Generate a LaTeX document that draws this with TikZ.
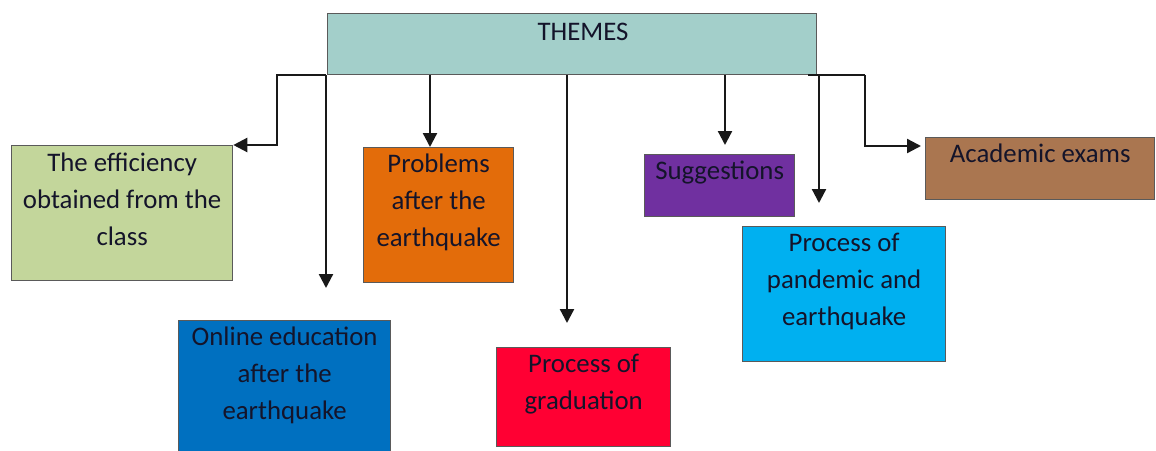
\documentclass[tikz,border=0pt]{standalone}
\usepackage{fontspec}
\setmainfont{Carlito}
\usetikzlibrary{arrows.meta}
\definecolor{themefill}{HTML}{A3CFCA}
\definecolor{efffill}{HTML}{C3D69B}
\definecolor{probfill}{HTML}{E36C0A}
\definecolor{onlinefill}{HTML}{0070C0}
\definecolor{gradfill}{HTML}{FF0033}
\definecolor{sugfill}{HTML}{7030A0}
\definecolor{pandfill}{HTML}{00B0F0}
\definecolor{acadfill}{HTML}{AA7650}
\definecolor{txt}{HTML}{14142A}
\definecolor{edge}{HTML}{5A5A5A}
\tikzset{
  box/.style={draw=edge, line width=1.3pt, rectangle, inner sep=0pt, anchor=north west},
  lbl/.style={anchor=north, inner sep=0pt, align=center, text=txt, font=\fontsize{26.8}{37}\selectfont},
  arr/.style={draw=black!90, line width=2.3pt, -{Triangle[width=14pt,length=14pt]}},
  plain/.style={draw=black!90, line width=2.3pt}
}
\newcommand{\mybox}[6]{%
  \node[box, fill=#6, minimum width=#4pt-#2pt, minimum height=#5pt-#3pt] (#1) at (#2,#3) {};}
\begin{document}
\begin{tikzpicture}[x=1pt,y=-1pt]
\useasboundingbox (0,0) rectangle (1156,450);
% boxes
\mybox{themes}{327}{13}{816}{74}{themefill}
\node[lbl, anchor=center] (themesT) at (583,32) {THEMES};
\mybox{eff}{11}{145}{232}{280}{efffill}
\node[lbl] (effT) at ([yshift=-8pt]eff.north) {The efficiency\\obtained from the\\class};
\mybox{online}{178}{320}{390}{452}{onlinefill}
\node[lbl] (onlineT) at ([yshift=-7pt]online.north) {Online education\\after the\\earthquake};
\mybox{prob}{363}{147}{513}{282}{probfill}
\node[lbl] (probT) at ([yshift=-7pt]prob.north) {Problems\\after the\\earthquake};
\mybox{grad}{496}{347}{670}{446}{gradfill}
\node[lbl] (gradT) at ([yshift=-7pt]grad.north) {Process of\\graduation};
\mybox{sug}{644}{154}{794}{216}{sugfill}
\node[lbl] (sugT) at ([yshift=-7pt]sug.north) {Suggestions};
\mybox{pand}{742}{226}{945}{361}{pandfill}
\node[lbl] (pandT) at ([yshift=-7pt]pand.north) {Process of\\pandemic and\\earthquake};
\mybox{acad}{925}{137}{1154}{199}{acadfill}
\node[lbl] (acadT) at ([yshift=-7pt]acad.north) {Academic exams};
% connector coordinates
\coordinate (b1) at (277,75);
\coordinate (s2) at (326,75);
\coordinate (e2) at (326,288);
\coordinate (s3) at (430,75);
\coordinate (s4) at (567,75);
\coordinate (e4) at (567,323);
\coordinate (s5) at (725,75);
\coordinate (e5) at (725,145);
\coordinate (s6) at (808,75);
\coordinate (s7) at (819,75);
\coordinate (e7) at (819,203);
\coordinate (b8) at (865,75);
\coordinate (e8) at (921,146);
% connectors
\draw[arr] (s2) -- (b1) |- (eff.north east);
\draw[arr] (s2) -- (e2);
\draw[arr] (s3) -- (s3 |- prob.north);
\draw[arr] (s4) -- (e4);
\draw[arr] (s5) -- (e5);
\draw[plain] (s6) -- (b8);
\draw[arr] (s7) -- (e7);
\draw[arr] (b8) |- (e8);
\end{tikzpicture}
\end{document}
